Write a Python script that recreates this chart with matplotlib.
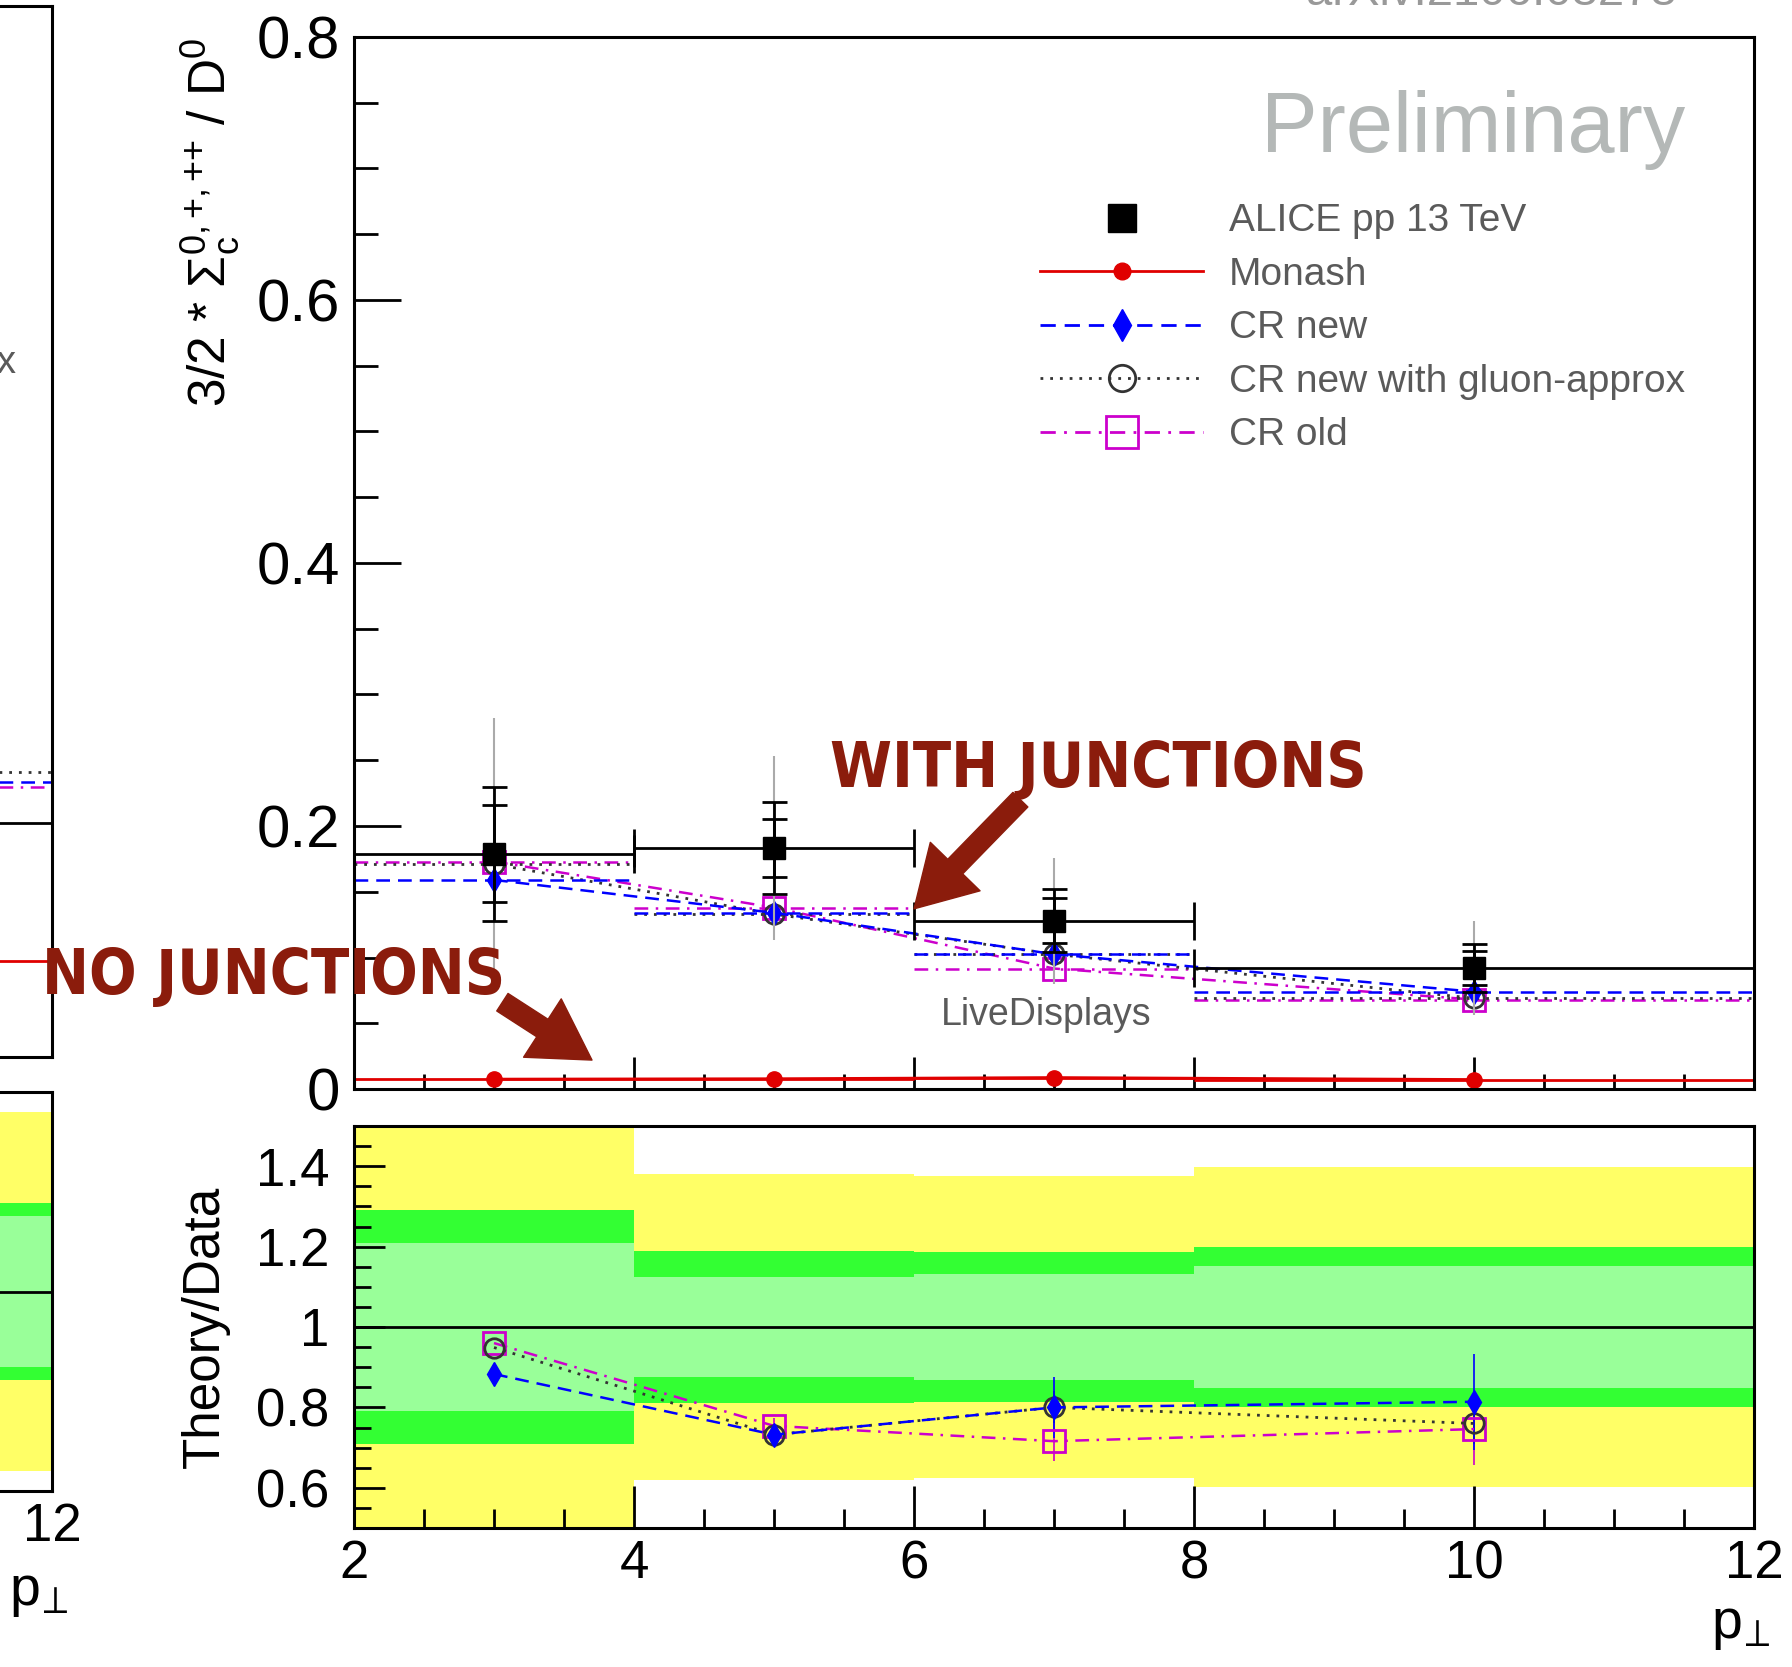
import numpy as np
import matplotlib
matplotlib.use('Agg')
import matplotlib.pyplot as plt
from matplotlib.lines import Line2D
from matplotlib.ticker import MultipleLocator, FuncFormatter

plt.rcParams['font.family'] = ['Liberation Sans', 'DejaVu Sans']
plt.rcParams['mathtext.fontset'] = 'custom'
plt.rcParams['mathtext.rm'] = 'Liberation Sans'
plt.rcParams['mathtext.it'] = 'Liberation Sans:italic'
plt.rcParams['mathtext.bf'] = 'Liberation Sans:bold'

# pT bins
bin_edges = [2, 4, 6, 8, 12]
pt = [3, 5, 7, 10]
pt_err = [1, 1, 1, 2]

# ALICE pp 13 TeV, 3/2 * Sigma_c / D0
alice = [0.179, 0.183, 0.128, 0.092]
alice_stat = [0.037, 0.022, 0.017, 0.013]
alice_tot = [0.051, 0.035, 0.024, 0.018]
alice_wide = [0.103, 0.070, 0.048, 0.036]

# PYTHIA tunes
monash = [0.0075, 0.0078, 0.0087, 0.0072]
cr_new = [0.159, 0.134, 0.1025, 0.074]
cr_gluon = [0.171, 0.133, 0.1025, 0.069]
cr_old = [0.173, 0.138, 0.0916, 0.068]

# Theory/Data
ratio_new = [0.883, 0.732, 0.800, 0.814]
ratio_gluon = [0.949, 0.732, 0.800, 0.760]
ratio_old = [0.960, 0.754, 0.716, 0.746]
ratio_new_err = [0.0, 0.02, 0.076, 0.12]
ratio_gluon_err = [0.0, 0.02, 0.04, 0.05]
ratio_old_err = [0.0, 0.02, 0.05, 0.09]

# data uncertainty bands in the ratio (half widths)
band_outer = [0.59, 0.38, 0.375, 0.397]
band_mid = [0.29, 0.19, 0.186, 0.199]
band_inner = [0.208, 0.124, 0.133, 0.152]

# neighbouring panel (only its right edge is visible)
left_edges = [8, 12]
left_alice = [0.223]
left_monash = [0.091]
left_new = [0.262]
left_gluon = [0.271]
left_old = [0.257]
left_band_outer = [0.45]
left_band_mid = [0.222]
left_band_inner = [0.19]

RED = '#e00000'
BLUE = '#0000ff'
MAG = '#cc00cc'
DARK = '#333333'
JRED = '#8b1c0c'
TXT = '#5a5a5a'
YELLOW = '#ffff66'
GREEN = '#33ff33'
LGREEN = '#99ff99'

DASH = (0, (5.5, 3.2))
DOT = (0, (1, 2.5))
DASHDOT = (0, (5.5, 3, 1, 3))

fmt = FuncFormatter(lambda v, p: f'{v:g}')

W, H = 1792, 1667
fig = plt.figure(figsize=(W / 100, H / 100), dpi=100)


def box(l, r, t, b):
    return [l / W, (H - b) / H, (r - l) / W, (b - t) / H]


def root_ticks(ax, xmaj, xmin, ymaj, ymin, yloc, ymloc):
    ax.set_xlim(2, 12)
    ax.xaxis.set_major_locator(MultipleLocator(2))
    ax.xaxis.set_minor_locator(MultipleLocator(0.5))
    ax.yaxis.set_major_locator(MultipleLocator(yloc))
    ax.yaxis.set_minor_locator(MultipleLocator(ymloc))
    ax.yaxis.set_major_formatter(fmt)
    ax.xaxis.set_major_formatter(fmt)
    ax.tick_params(axis='x', which='major', direction='in', length=xmaj, width=2, top=False)
    ax.tick_params(axis='x', which='minor', direction='in', length=xmin, width=2, top=False)
    ax.tick_params(axis='y', which='major', direction='in', length=ymaj, width=2, right=False)
    ax.tick_params(axis='y', which='minor', direction='in', length=ymin, width=2, right=False)
    for s in ax.spines.values():
        s.set_linewidth(2.2)


# the cut-off neighbouring panels first, so the main panel's texts sit on top
axl = fig.add_axes(box(52 - 1400, 52, 6, 1057))
axlr = fig.add_axes(box(52 - 1400, 52, 1092, 1491))
ax = fig.add_axes(box(354, 1754, 37, 1089))
axr = fig.add_axes(box(354, 1754, 1126, 1528))
ax.set_zorder(3)

# ---------------- upper panel ----------------
root_ticks(ax, 23, 11, 34, 17, 0.2, 0.05)
ax.set_ylim(0, 0.8)
ax.tick_params(axis='x', labelbottom=False)
ax.tick_params(axis='y', labelsize=43, pad=10)

lo, hi = bin_edges[:-1], bin_edges[1:]
ax.hlines(monash, lo, hi, colors=RED, lw=2)
ax.plot(pt, monash, color=RED, lw=2, marker='o', ms=11)
ax.hlines(cr_old, lo, hi, colors=MAG, linestyles=[DASHDOT], lw=1.8)
ax.plot(pt, cr_old, color=MAG, ls=DASHDOT, lw=1.8, marker='s', ms=16, mfc='none', mew=2)
ax.hlines(cr_gluon, lo, hi, colors=DARK, linestyles=[DOT], lw=2)
ax.plot(pt, cr_gluon, color=DARK, ls=DOT, lw=2, marker='o', ms=14, mfc='none', mew=2)
ax.hlines(cr_new, lo, hi, colors=BLUE, linestyles=[DASH], lw=1.8)
ax.plot(pt, cr_new, color=BLUE, ls=DASH, lw=1.8, marker='d', ms=12)

ax.errorbar(pt, alice, yerr=alice_wide, fmt='none', ecolor='#aaaaaa', elinewidth=1.5, capsize=0)
ax.errorbar(pt, alice, xerr=pt_err, fmt='none', ecolor='black', elinewidth=2, capsize=14, capthick=2)
ax.errorbar(pt, alice, yerr=alice_tot, fmt='none', ecolor='black', elinewidth=2, capsize=9, capthick=2)
ax.errorbar(pt, alice, yerr=alice_stat, fmt='none', ecolor='black', elinewidth=2, capsize=9, capthick=2)
ax.plot(pt, alice, ls='none', marker='s', color='black', ms=16)

ax.set_ylabel('3/2 * $\\mathregular{\\Sigma_{c}^{0,{+},{+}{+}}}$ / D$^{0}$', fontsize=37, loc='top')
ax.yaxis.set_label_coords(-0.080, 1.0)

ax.text(0.951, 0.912, 'Preliminary', transform=ax.transAxes, fontsize=61,
        color='#b4b8b7', ha='right', va='center')

handles = [
    Line2D([], [], ls='none', marker='s', color='black', ms=20),
    Line2D([], [], color=RED, lw=2, marker='o', ms=12),
    Line2D([], [], color=BLUE, ls=DASH, lw=2, marker='d', ms=16),
    Line2D([], [], color=DARK, ls=DOT, lw=2, marker='o', ms=19, mfc='none', mew=2),
    Line2D([], [], color=MAG, ls=DASHDOT, lw=2, marker='s', ms=23, mfc='none', mew=2),
]
labels = ['ALICE pp 13 TeV', 'Monash', 'CR new', 'CR new with gluon-approx', 'CR old']
ax.legend(handles, labels, loc='upper left', bbox_to_anchor=(0.49, 0.842), frameon=False,
          fontsize=28, labelcolor=TXT, handlelength=4.2, handletextpad=0.65,
          labelspacing=0.45, borderpad=0, borderaxespad=0)

ax.text(6.19, 0.049, 'LiveDisplays', fontsize=27, color=TXT, ha='left', va='baseline')

jfont = dict(family=['Liberation Sans Narrow', 'DejaVu Sans'], weight='bold',
             stretch='condensed', color=JRED, fontsize=45, va='baseline', ha='left')
ax.text(5.40, 0.230, 'WITH JUNCTIONS', **jfont)
ax.text(-0.229, 0.072, 'NO JUNCTIONS', clip_on=False, **jfont)
arrow = dict(arrowstyle='simple,head_length=0.85,head_width=1.0,tail_width=0.3',
             color=JRED, shrinkA=0, shrinkB=0, mutation_scale=50)
ax.annotate('', xy=(6.0, 0.137), xytext=(6.76, 0.22), arrowprops=arrow)
ax.annotate('', xy=(3.70, 0.022), xytext=(3.06, 0.066), arrowprops=arrow, annotation_clip=False)

# ---------------- ratio panel ----------------
root_ticks(axr, 30, 14, 22, 12, 0.2, 0.05)
axr.set_ylim(0.5, 1.5)
axr.tick_params(axis='x', labelsize=38, pad=8)
axr.tick_params(axis='y', labelsize=38, pad=18)
widths = np.diff(bin_edges)
for half, col in [(band_outer, YELLOW), (band_mid, GREEN), (band_inner, LGREEN)]:
    half = np.array(half)
    axr.bar(lo, 2 * half, width=widths, bottom=1 - half, align='edge', color=col, lw=0)
axr.axhline(1.0, color='black', lw=2)

axr.errorbar(pt, ratio_old, yerr=ratio_old_err, color=MAG, ls=DASHDOT, lw=1.8,
             marker='s', ms=16, mfc='none', mew=2, elinewidth=1.2)
axr.errorbar(pt, ratio_gluon, yerr=ratio_gluon_err, color=DARK, ls=DOT, lw=2,
             marker='o', ms=14, mfc='none', mew=2, elinewidth=1.2)
axr.errorbar(pt, ratio_new, yerr=ratio_new_err, color=BLUE, ls=DASH, lw=1.8,
             marker='d', ms=12, elinewidth=1.2)

axr.set_ylabel('Theory/Data', fontsize=37)
axr.yaxis.set_label_coords(-0.089, 0.5)
axr.set_xlabel('p$_{\\!\\perp}$', fontsize=40, loc='right')
axr.xaxis.set_label_coords(1.012, -0.18)

# ---------------- neighbouring panel (cut off) ----------------
root_ticks(axl, 23, 11, 34, 17, 0.2, 0.05)
axl.set_ylim(0, 1.0)
axl.tick_params(labelbottom=False, labelleft=False)
le_lo, le_hi = left_edges[:-1], left_edges[1:]
axl.hlines(left_monash, le_lo, le_hi, colors=RED, lw=2)
axl.hlines(left_old, le_lo, le_hi, colors=MAG, linestyles=[DASHDOT], lw=1.8)
axl.hlines(left_gluon, le_lo, le_hi, colors=DARK, linestyles=[DOT], lw=2)
axl.hlines(left_new, le_lo, le_hi, colors=BLUE, linestyles=[DASH], lw=1.8)
axl.hlines(left_alice, le_lo, le_hi, colors='black', lw=2)
axl.text(0.9745, 0.66, 'CR new with gluon-approx', transform=axl.transAxes,
         fontsize=28, color=TXT, ha='right', va='center')

root_ticks(axlr, 30, 14, 22, 12, 0.2, 0.05)
axlr.set_ylim(0.5, 1.5)
axlr.tick_params(axis='x', labelsize=38, pad=8)
axlr.tick_params(axis='y', labelleft=False)
lw_ = np.diff(left_edges)
for half, col in [(left_band_outer, YELLOW), (left_band_mid, GREEN), (left_band_inner, LGREEN)]:
    half = np.array(half)
    axlr.bar(le_lo, 2 * half, width=lw_, bottom=1 - half, align='edge', color=col, lw=0)
axlr.axhline(1.0, color='black', lw=2)
axlr.set_xlabel('p$_{\\!\\perp}$', fontsize=40, loc='right')
axlr.xaxis.set_label_coords(1.012, -0.19)

# reference line cut at the top of the slide
fig.text(1305 / 1568, 1 - 5 / H, 'arXiv:2106.08278', fontsize=34, color='#999999',
         ha='center', va='baseline')

fig.savefig('out.png', dpi=100)
